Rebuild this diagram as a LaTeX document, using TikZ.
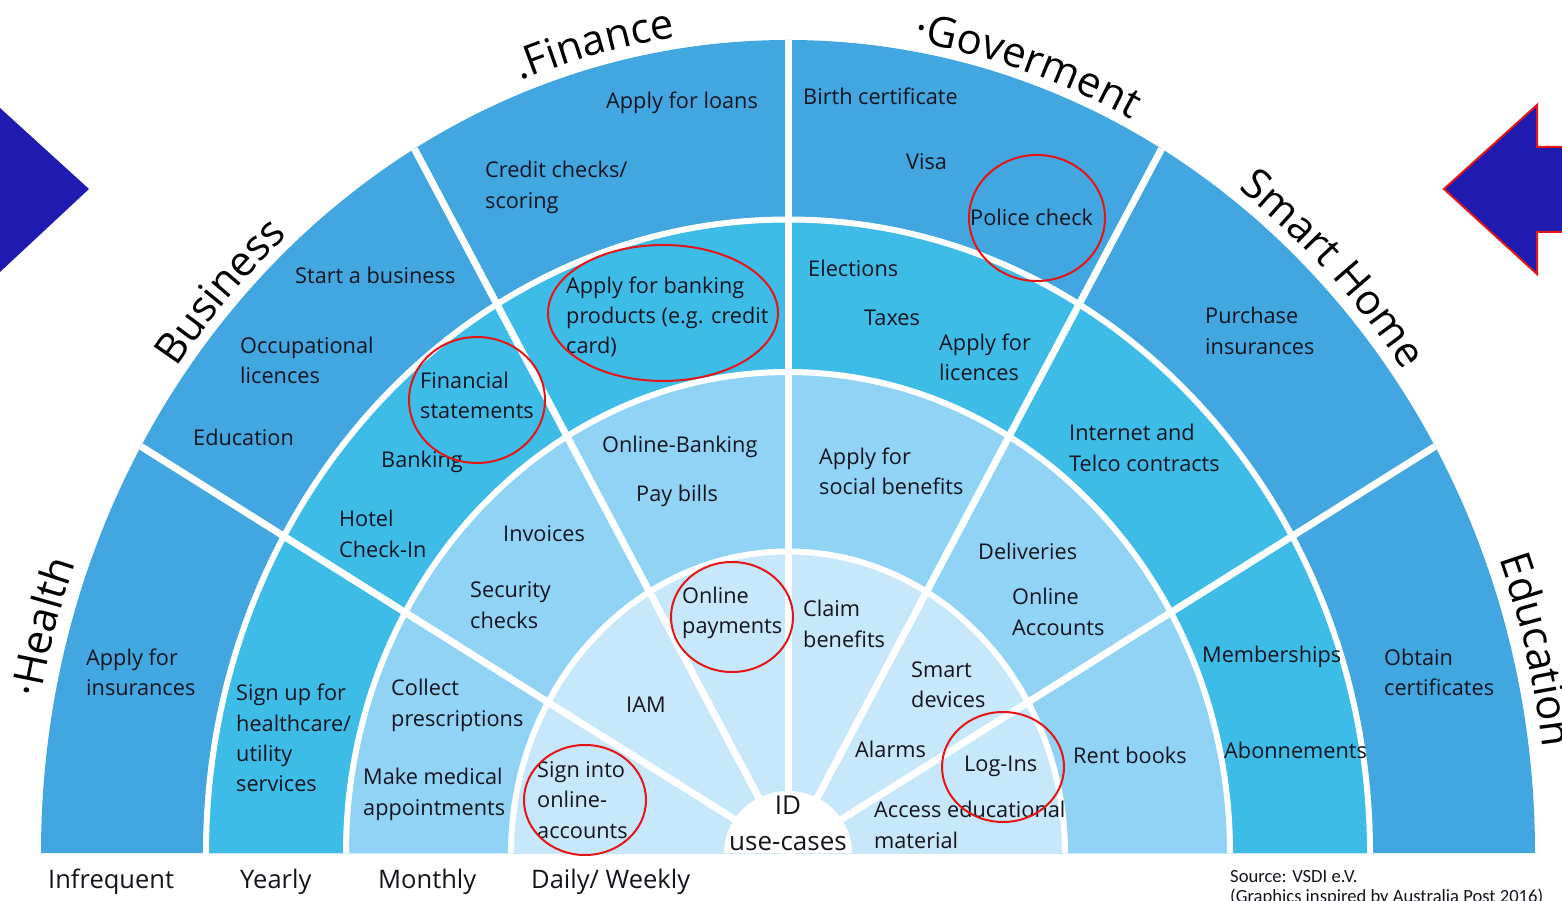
\documentclass[tikz,border=0pt]{standalone}
\usepackage{fontspec}
\setmainfont{Open Sans}
\newfontfamily\srcfont{Carlito}
\usetikzlibrary{decorations.text}
\definecolor{ringA}{RGB}{66,166,224}
\definecolor{ringB}{RGB}{62,188,232}
\definecolor{ringC}{RGB}{145,211,245}
\definecolor{ringD}{RGB}{199,231,250}
\definecolor{arrowblue}{RGB}{31,26,176}
\definecolor{circred}{RGB}{230,20,20}
\definecolor{txt}{RGB}{20,20,30}
\newcommand\lblfont{\fontsize{42}{48}\selectfont}
\begin{document}
\begin{tikzpicture}[x=1pt,y=1pt,
  item/.style={anchor=west,align=left,inner sep=0pt,text=txt,font=\fontsize{21.7}{30.3}\selectfont},
  freq/.style={anchor=west,inner sep=0pt,text=txt,font=\fontsize{25.5}{30}\selectfont},
  src/.style={anchor=west,inner sep=0pt,text=txt,font=\srcfont\fontsize{18.6}{20}\selectfont},
  centre/.style={anchor=center,align=center,inner sep=0pt,text=txt,font=\fontsize{26}{36}\selectfont},
  ringgap/.style={white,line width=6},
  spoke/.style={white,line width=7},
  redmark/.style={draw=circred,line width=2},
  sectorlabel/.style={decorate,decoration={text along path,text align=center,text color=black}}
]
\useasboundingbox (0,0) rectangle (1562,900);
\coordinate (C) at (788,47);
% rings
\fill[ringA] (C) ++(-747,0) arc[start angle=180,end angle=0,x radius=747,y radius=813] -- cycle;
\fill[ringB] (C) ++(-582,0) arc[start angle=180,end angle=0,x radius=582,y radius=633.5] -- cycle;
\fill[ringC] (C) ++(-442,0) arc[start angle=180,end angle=0,x radius=442,y radius=481] -- cycle;
\fill[ringD] (C) ++(-277,0) arc[start angle=180,end angle=0,x radius=277,y radius=301.5] -- cycle;
% gaps
\foreach \r/\s in {277/301.5,442/481,582/633.5}
  \draw[ringgap] (C) ++(-\r,0) arc[start angle=180,end angle=0,x radius=\r,y radius=\s];
\foreach \a in {30,60,90,120,150}
  \draw[spoke] (C) -- ([shift={(\a:747 and 813)}]C);
\fill[white] (C) ++(-64,0) arc[start angle=180,end angle=0,x radius=64,y radius=62] -- cycle;
% sector labels
\path[sectorlabel,decoration={text={|\lblfont|·Health}}] ([shift={(179.3:761 and 827)}]C) arc[start angle=179.3,end angle=149.3,x radius=761,y radius=827];
\path[sectorlabel,decoration={text={|\lblfont|Business}}] ([shift={(152.5:757 and 823)}]C) arc[start angle=152.5,end angle=122.5,x radius=757,y radius=823];
\path[sectorlabel,decoration={text={|\lblfont|.Finance}}] ([shift={(119.5:759 and 825)}]C) arc[start angle=119.5,end angle=89.5,x radius=759,y radius=825];
\path[sectorlabel,decoration={text={|\lblfont|·Goverment}}] ([shift={(86.8:757 and 823)}]C) arc[start angle=86.8,end angle=56.8,x radius=757,y radius=823];
\path[sectorlabel,decoration={text={|\lblfont|Smart Home}}] ([shift={(59.8:759 and 825)}]C) arc[start angle=59.8,end angle=29.8,x radius=759,y radius=825];
\path[sectorlabel,decoration={text={|\lblfont|Education}}] ([shift={(29.1:761 and 827)}]C) arc[start angle=29.1,end angle=-0.9,x radius=761,y radius=827];
% Infrequent ring
\node[item] (ins) at (86,228) {Apply for\\insurances};
\node[item] (startbiz) at (295,625) {Start a business};
\node[item] (occup) at (240,539.5) {Occupational\\licences};
\node[item] (edu) at (193,463) {Education};
\node[item] (loans) at (606,797) {Apply for loans};
\node[item] (credit) at (485,712.5) {Credit checks/\\scoring};
\node[item] (birth) at (803,804) {Birth certificate};
\node[item] (visa) at (906,738) {Visa};
\node[item] (police) at (970,683) {Police check};
\node[item] (purchase) at (1205,569) {Purchase\\insurances};
\node[item] (obtain) at (1384,227.5) {Obtain\\certificates};
% Yearly ring
\node[item] (signup) at (236,162) {Sign up for\\healthcare/\\utility\\services};
\node[item] (finstat) at (420,504.5) {Financial\\statements};
\node[item] (banking) at (381,438) {Banking};
\node[item] (hotel) at (339,366) {Hotel\\Check-In};
\node[item] (bankprod) at (566,583) {Apply for banking\\products (e.g. credit\\card)};
\node[item] (elections) at (808,632) {Elections};
\node[item] (taxes) at (864,582) {Taxes};
\node[item] (licences) at (939,543) {Apply for\\licences};
\node[item] (internet) at (1069,452) {Internet and\\Telco contracts};
\node[item] (members) at (1202,243) {Memberships};
\node[item] (abon) at (1224,150) {Abonnements};
% Monthly ring
\node[item] (collect) at (391,194.5) {Collect\\prescriptions};
\node[item] (medical) at (363,105.5) {Make medical\\appointments};
\node[item] (invoices) at (503,366) {Invoices};
\node[item] (security) at (470,295) {Security\\checks};
\node[item] (onlinebank) at (602,453) {Online-Banking};
\node[item] (paybills) at (636,404) {Pay bills};
\node[item] (social) at (819,429) {Apply for\\social benefits};
\node[item] (deliveries) at (978,349) {Deliveries};
\node[item] (onlineacc) at (1012,288) {Online\\Accounts};
\node[item] (rent) at (1073,145) {Rent books};
% Daily ring
\node[item] (signinto) at (537,100) {Sign into\\online-\\accounts};
\node[item] (iam) at (626,195) {IAM};
\node[item] (onlinepay) at (682,287) {Online\\payments};
\node[item] (claim) at (803,276) {Claim\\benefits};
\node[item] (smartdev) at (911,215) {Smart\\devices};
\node[item] (alarms) at (855,151) {Alarms};
\node[item] (login) at (964,134) {Log-Ins};
\node[item] (access) at (874,75) {Access educational\\material};
% centre
\node[centre] (idcases) at (788,77) {ID\\use-cases};
% red marks
\draw[redmark] (1037,682) ellipse[x radius=68,y radius=63];
\draw[redmark] (663,587) ellipse[x radius=115,y radius=68];
\draw[redmark] (477,500) ellipse[x radius=68,y radius=63];
\draw[redmark] (732,283) ellipse[x radius=61,y radius=55];
\draw[redmark] (585,100) ellipse[x radius=61,y radius=55];
\draw[redmark] (1003,133) ellipse[x radius=61,y radius=55];
% frequency labels
\node[freq] (infreq) at (48,18) {Infrequent};
\node[freq] (yearly) at (240,18) {Yearly};
\node[freq] (monthly) at (378,18) {Monthly};
\node[freq] (daily) at (531,18) {Daily/ Weekly};
% source
\node[src] (src1) at (1230,23) {Source: VSDI e.V.};
\node[src] (src2) at (1230,3) {(Graphics inspired by Australia Post 2016)};
% arrows
\fill[arrowblue] (0,792) -- (89,711) -- (0,628) -- cycle;
\draw[circred,line width=2,fill=arrowblue] (1444,711) -- (1537,795) -- (1537,753) -- (1575,753) -- (1575,668) -- (1537,668) -- (1537,626) -- cycle;
\end{tikzpicture}
\end{document}
